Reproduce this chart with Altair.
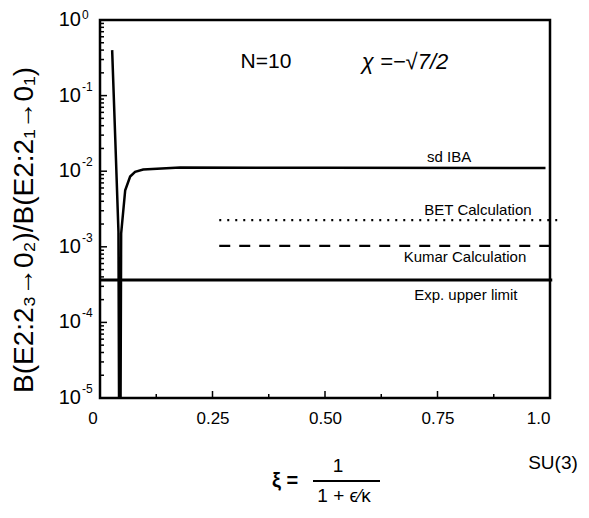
import altair as alt
import pandas as pd

# ---- data ----
curve_x = [0.027, 0.034, 0.041, 0.0435, 0.0445, 0.047, 0.056, 0.067, 0.078, 0.096, 0.178, 0.5, 0.99]
curve_y = [0.40, 0.026, 0.0016, 1e-7, 1e-7, 0.0015, 0.0056, 0.0085, 0.0098, 0.0105, 0.0112, 0.0111, 0.0110]

ref_names = ["BET Calculation", "Kumar Calculation", "Exp. upper limit"]
ref_values = [0.00226, 0.00103, 0.000364]
ref_start = [0.265, 0.265, 0.0]
ref_end = [1.016, 1.0, 1.005]

label_text = ["sd IBA", "BET Calculation", "Kumar Calculation", "Exp. upper limit"]
label_x = [0.776, 0.84, 0.811, 0.813]
label_y = [0.0154, 0.00307, 0.000733, 0.000230]

y_decades = [1, 0.1, 0.01, 0.001, 0.0001, 0.00001]
y_exponents = ["0", "-1", "-2", "-3", "-4", "-5"]
y_minor = [m * d for d in [0.1, 0.01, 0.001, 0.0001, 0.00001] for m in range(2, 10)]
x_major_ticks = [0.25, 0.5, 0.75]
x_minor_ticks = [0.125, 0.375, 0.625, 0.875]
x_labels = [0.25, 0.5, 0.75, 1.0]

FONT = "Liberation Sans"
xs = alt.Scale(domain=[0, 1], nice=False, zero=False)
ys = alt.Scale(type="log", domain=[1e-5, 1], nice=False)

curve_df = pd.DataFrame({"x": curve_x, "y": curve_y})
ref_df = pd.DataFrame({"name": ref_names, "y": ref_values, "x": ref_start, "x2": ref_end})
lab_df = pd.DataFrame({"t": label_text, "x": label_x, "y": label_y})
dec_df = pd.DataFrame({"y": y_decades, "e": y_exponents})
minor_df = pd.DataFrame({"y": y_minor})
xmaj_df = pd.DataFrame({"x": x_major_ticks})
xmin_df = pd.DataFrame({"x": x_minor_ticks})

xaxis = alt.Axis(values=x_labels, labelExpr="datum.value == 1 ? '1.0' : format(datum.value, '.2f')",
                 ticks=False, tickSize=0, domain=False, grid=False, labelPadding=12,
                 labelFont=FONT, labelFontSize=17, labelColor="black", title=None)

curve = alt.Chart(curve_df).mark_line(color="black", strokeWidth=2.5, clip=True).encode(
    x=alt.X("x:Q", scale=xs, axis=xaxis),
    y=alt.Y("y:Q", scale=ys, axis=None),
)

ref_bet = alt.Chart(ref_df[ref_df.name == "BET Calculation"]).mark_rule(
    color="black", strokeWidth=2.2, strokeDash=[2, 6]).encode(
    x=alt.X("x:Q", scale=xs), x2="x2:Q", y=alt.Y("y:Q", scale=ys))
ref_kumar = alt.Chart(ref_df[ref_df.name == "Kumar Calculation"]).mark_rule(
    color="black", strokeWidth=2.2, strokeDash=[11, 9]).encode(
    x=alt.X("x:Q", scale=xs), x2="x2:Q", y=alt.Y("y:Q", scale=ys))
ref_exp = alt.Chart(ref_df[ref_df.name == "Exp. upper limit"]).mark_rule(
    color="black", strokeWidth=3).encode(
    x=alt.X("x:Q", scale=xs), x2="x2:Q", y=alt.Y("y:Q", scale=ys))

labels = alt.Chart(lab_df).mark_text(font=FONT, fontSize=15, color="black", baseline="middle").encode(
    x=alt.X("x:Q", scale=xs), y=alt.Y("y:Q", scale=ys), text="t:N")

# inward ticks on the axes
ymaj_ticks = alt.Chart(dec_df).mark_rule(color="black", strokeWidth=1.5).encode(
    y=alt.Y("y:Q", scale=ys), x=alt.value(0), x2=alt.value(7))
ymin_ticks = alt.Chart(minor_df).mark_rule(color="black", strokeWidth=1.5).encode(
    y=alt.Y("y:Q", scale=ys), x=alt.value(0), x2=alt.value(4))
xmaj = alt.Chart(xmaj_df).mark_rule(color="black", strokeWidth=1.5).encode(
    x=alt.X("x:Q", scale=xs), y=alt.value(378), y2=alt.value(371))
xmin = alt.Chart(xmin_df).mark_rule(color="black", strokeWidth=1.5).encode(
    x=alt.X("x:Q", scale=xs), y=alt.value(378), y2=alt.value(374))

# y tick labels 10^n
ten = alt.Chart(dec_df).mark_text(font=FONT, fontSize=20, color="black", align="right", baseline="middle").encode(
    y=alt.Y("y:Q", scale=ys), x=alt.value(-19), text=alt.value("10"))
expo = alt.Chart(dec_df[dec_df.y < 1]).mark_text(font=FONT, fontSize=12, color="black", align="left",
                                                 baseline="middle", dy=-9).encode(
    y=alt.Y("y:Q", scale=ys), x=alt.value(-18), text="e:N")
expo_top = alt.Chart(dec_df[dec_df.y == 1]).mark_text(font=FONT, fontSize=12, color="black", align="left",
                                                      baseline="middle", dy=-5).encode(
    y=alt.Y("y:Q", scale=ys), x=alt.value(-18), text="e:N")

def txt(s, x, y, size, **kw):
    return alt.Chart(pd.DataFrame({"t": [s]})).mark_text(font=FONT, fontSize=size, color="black",
                                                          baseline="middle", **kw).encode(
        x=alt.value(x), y=alt.value(y), text="t:N")

zero_lbl = txt("0", -7, 399, 17)
ytitle = txt("B(E2:2₃→0₂)/B(E2:2₁→0₁)", -75, 210, 28, angle=270)
n_lbl = txt("N=10", 166, 42, 21)
chi_lbl = txt("χ =−√7/2", 305, 42, 22, fontStyle="italic")
su3 = txt("SU(3)", 453, 443, 19)
xi = txt("ξ =", 185, 461, 20, fontWeight="bold")
num = txt("1", 238, 446, 19)
den = txt("1 + ϵ⁄κ", 244, 476, 19)
bar = alt.Chart(pd.DataFrame({"a": [0]})).mark_rule(color="black", strokeWidth=2, clip=False).encode(
    x=alt.value(213), x2=alt.value(280), y=alt.value(461))

chart = alt.layer(
    curve, ref_bet, ref_kumar, ref_exp, labels, ymaj_ticks, ymin_ticks, xmaj, xmin,
    ten, expo, expo_top, zero_lbl, ytitle, n_lbl, chi_lbl, su3, xi, num, den, bar
).properties(
    width=450, height=378,
    padding={"left": 92, "top": 12, "right": 31, "bottom": 110},
    autosize=alt.AutoSizeParams(type="none"),
).configure_view(stroke="black", strokeWidth=2.5)

chart.save("out.html", embed_options={"renderer": "svg", "actions": False})
